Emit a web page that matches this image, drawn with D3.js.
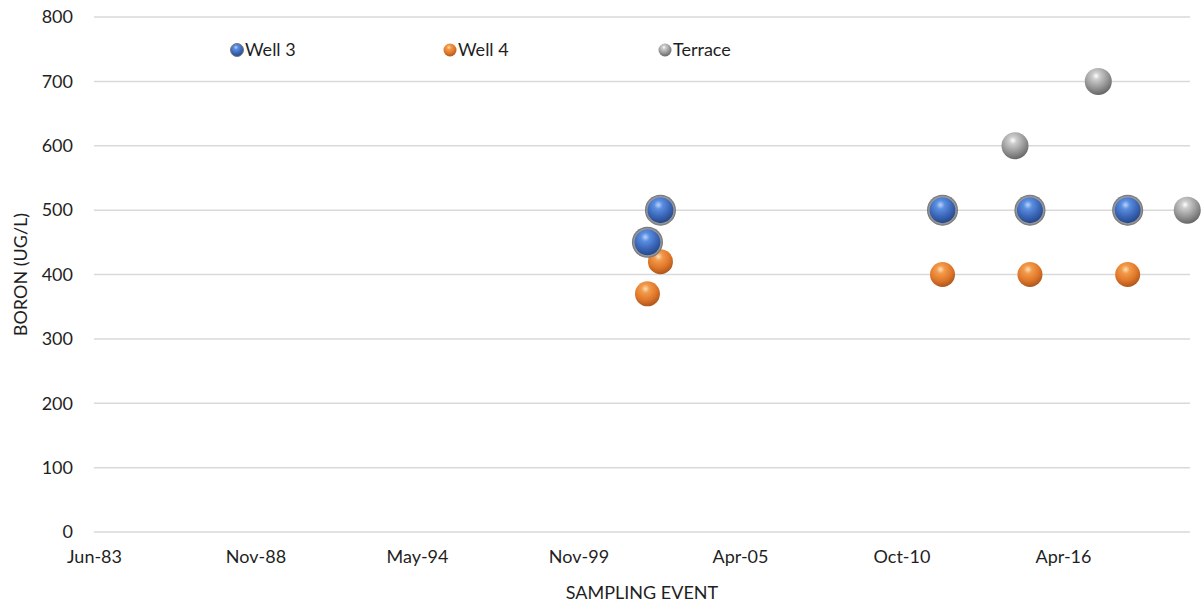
<!DOCTYPE html>
<html><head><meta charset="utf-8">
<script src="https://cdn.jsdelivr.net/npm/d3@7"></script>
<style>body{margin:0;background:#fff}svg{display:block;font-family:Lato,"Noto Sans",sans-serif}</style>
</head><body><svg id="c" width="1204" height="608"></svg>
<script>
// ---- data ----
const seriesNames = ["Well 3", "Well 4", "Terrace"];
const well3Dates = ["2002-03-07", "2002-08-15", "2012-03-08", "2015-02-24", "2018-06-18"];
const well3Values = [450, 500, 500, 500, 500];
const well4Dates = ["2002-03-07", "2002-08-15", "2012-03-08", "2015-02-24", "2018-06-18"];
const well4Values = [370, 420, 400, 400, 400];
const terraceDates = ["2014-08-23", "2017-06-19", "2020-06-25"];
const terraceValues = [600, 700, 500];
const yTicks = [0, 100, 200, 300, 400, 500, 600, 700, 800];
const xTickLabels = ["Jun-83", "Nov-88", "May-94", "Nov-99", "Apr-05", "Oct-10", "Apr-16"];
const xMin = "1983-06-01", xMax = "2020-07-29", tickStepDays = 2000;

(function () {
const parse = d3.timeParse("%Y-%m-%d");
const svg = d3.select("#c");
const pL = 94, pR = 1190, pT = 17, pB = 532;
const FS = 18, TXT = "#1f1f1f";

const x = d3.scaleTime().domain([parse(xMin), parse(xMax)]).range([pL, pR]);
const y = d3.scaleLinear().domain([0, 800]).range([pB, pT]);

// gradients
const defs = svg.append("defs");
function grad(id, stops, cx, cy) {
  const g = defs.append("radialGradient").attr("id", id)
    .attr("cx", cx).attr("cy", cy).attr("r", "0.75").attr("fx", cx).attr("fy", cy);
  stops.forEach(s => g.append("stop").attr("offset", s[0]).attr("stop-color", s[1]));
}
grad("gBlue", [["0%", "#b9d3fb"], ["22%", "#5b8ee0"], ["60%", "#3b66b8"], ["100%", "#22427f"]], "0.42", "0.3");
grad("gOrange", [["0%", "#fde0b8"], ["22%", "#f29a4a"], ["60%", "#e0772a"], ["100%", "#a4501a"]], "0.42", "0.3");
grad("gGray", [["0%", "#ffffff"], ["18%", "#cdcdcd"], ["55%", "#9c9c9c"], ["100%", "#5e5e5e"]], "0.42", "0.3");
const ring = defs.append("radialGradient").attr("id", "gRing");
ring.append("stop").attr("offset", "80%").attr("stop-color", "#b0b0b0");
ring.append("stop").attr("offset", "100%").attr("stop-color", "#6e6e6e");

// gridlines
svg.append("g").selectAll("line").data(yTicks).join("line")
  .attr("x1", pL).attr("x2", pR).attr("y1", d => y(d)).attr("y2", d => y(d))
  .attr("stroke", "#d9d9d9").attr("stroke-width", 1.5);

// y axis
const yAxis = d3.axisLeft(y).tickValues(yTicks).tickSize(0).tickPadding(21);
const gy = svg.append("g").attr("transform", `translate(${pL},0)`).call(yAxis);
gy.select(".domain").remove();
gy.selectAll("text").attr("font-size", FS).attr("fill", TXT).attr("font-family", "Lato");

// x axis
const xTicks = xTickLabels.map((l, i) => d3.timeDay.offset(parse(xMin), i * tickStepDays));
const xAxis = d3.axisBottom(x).tickValues(xTicks).tickSize(0).tickPadding(18)
  .tickFormat((d, i) => xTickLabels[i]);
const gx = svg.append("g").attr("transform", `translate(0,${pB})`).call(xAxis);
gx.select(".domain").remove();
gx.selectAll("text").attr("font-size", FS).attr("fill", TXT).attr("font-family", "Lato");

// axis titles
svg.append("text").attr("x", (pL + pR) / 2).attr("y", 599).attr("text-anchor", "middle")
  .attr("font-size", FS).attr("fill", TXT).text("SAMPLING EVENT");
svg.append("text").attr("transform", `translate(27,${(pT + pB) / 2}) rotate(-90)`)
  .attr("text-anchor", "middle").attr("font-size", FS).attr("fill", TXT).text("BORON (UG/L)");

// points
function draw(dates, values, fill, r, ringed) {
  const g = svg.append("g");
  const pts = dates.map((d, i) => ({ d: parse(d), v: values[i] }));
  if (ringed) {
    g.selectAll("circle.ring").data(pts).join("circle").attr("class", "ring")
      .attr("cx", p => x(p.d)).attr("cy", p => y(p.v)).attr("r", r + 2.5).attr("fill", "url(#gRing)");
  }
  g.selectAll("circle.pt").data(pts).join("circle").attr("class", "pt")
    .attr("cx", p => x(p.d)).attr("cy", p => y(p.v)).attr("r", r).attr("fill", fill);
}
draw(well4Dates, well4Values, "url(#gOrange)", 12.5, false);
draw(well3Dates, well3Values, "url(#gBlue)", 13, true);
draw(terraceDates, terraceValues, "url(#gGray)", 13.5, false);

// legend
const legendX = [237, 450, 665];
const legendFill = ["url(#gBlue)", "url(#gOrange)", "url(#gGray)"];
const lg = svg.append("g");
seriesNames.forEach((n, i) => {
  lg.append("circle").attr("cx", legendX[i]).attr("cy", 50).attr("r", 6.5).attr("fill", legendFill[i])
    .attr("stroke", i === 0 ? "#777" : "none").attr("stroke-width", 1);
  lg.append("text").attr("x", legendX[i] + 8).attr("y", 50).attr("dy", "0.35em")
    .attr("font-size", FS).attr("fill", TXT).text(n);
});
})();
</script></body></html>
